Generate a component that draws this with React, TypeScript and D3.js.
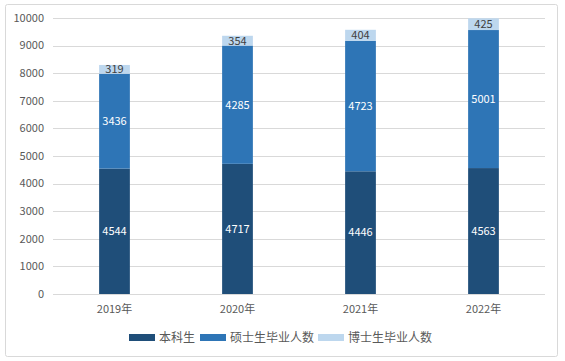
import React from "react";
import * as d3 from "d3";

const categories = ["2019年", "2020年", "2021年", "2022年"];
const seriesNames = ["本科生", "硕士生毕业人数", "博士生毕业人数"];
const undergrad = [4544, 4717, 4446, 4563];
const master = [3436, 4285, 4723, 5001];
const doctor = [319, 354, 404, 425];
const yTicks = [0, 1000, 2000, 3000, 4000, 5000, 6000, 7000, 8000, 9000, 10000];
const colors = ["#1F4E79", "#2E75B6", "#BDD7EE"];
const labelColors = ["#FFFFFF", "#FFFFFF", "#404040"];

export default function App() {
  const W = 565, H = 361;
  const left = 53, right = 545, top = 18, bottom = 294;
  const x = d3.scaleBand().domain(categories).range([left, right]).paddingInner(0.75).paddingOuter(0.375);
  const y = d3.scaleLinear().domain([0, 10000]).range([bottom, top]);
  const data = categories.map((c, i) => ({ cat: c, s0: undergrad[i], s1: master[i], s2: doctor[i] }));
  const stack = d3.stack<any>().keys(["s0", "s1", "s2"])(data);
  const font = "'Noto Sans CJK SC', 'Microsoft YaHei', sans-serif";
  const legendX = [129, 200, 318];
  return (
    <div style={{ position: "absolute", left: 0, top: 0 }}>
      <svg width={W} height={H} style={{ display: "block", fontFamily: font }}>
        <rect x={0} y={0} width={W} height={H} fill="#fff" />
        <rect x={5.5} y={4.5} width={552} height={352} fill="#fff" stroke="#D9D9D9" rx={2} />
        {yTicks.map((t) => (
          <g key={t}>
            <line x1={left} x2={right} y1={Math.round(y(t)) + 0.5} y2={Math.round(y(t)) + 0.5} stroke="#D9D9D9" />
            <text x={44} y={y(t)} dy="0.35em" textAnchor="end" fontSize={11} fill="#595959">{t}</text>
          </g>
        ))}
        {stack.map((layer, si) => (
          <g key={si}>
            {layer.map((d, i) => {
              const bx = x(categories[i])!;
              const y0 = y(d[0]), y1 = y(d[1]);
              const val = d[1] - d[0];
              return (
                <g key={i}>
                  <rect x={bx} y={y1} width={x.bandwidth()} height={y0 - y1} fill={colors[si]} />
                  <text x={bx + x.bandwidth() / 2} y={(y0 + y1) / 2} dy="0.35em" textAnchor="middle" fontSize={11} fill={labelColors[si]}>{val}</text>
                </g>
              );
            })}
          </g>
        ))}
        {categories.map((c) => (
          <text key={c} x={x(c)! + x.bandwidth() / 2} y={309} dy="0.35em" textAnchor="middle" fontSize={11} fill="#595959">{c}</text>
        ))}
        {seriesNames.map((n, i) => (
          <g key={n}>
            <rect x={legendX[i]} y={334} width={26} height={7} fill={colors[i]} />
            <text x={legendX[i] + 30} y={338} dy="0.35em" fontSize={12} fill="#595959">{n}</text>
          </g>
        ))}
      </svg>
    </div>
  );
}
